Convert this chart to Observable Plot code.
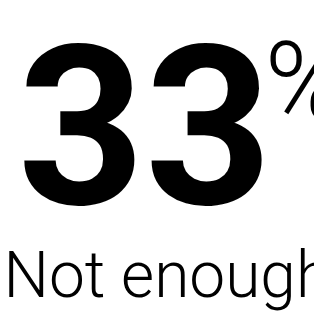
<!DOCTYPE html>
<html>
<head>
<meta charset="utf-8">
<script src="https://cdn.jsdelivr.net/npm/d3@7"></script>
<script src="https://cdn.jsdelivr.net/npm/@observablehq/plot@0.6"></script>
<style>
  html, body { margin: 0; padding: 0; background: #fff; overflow: hidden; }
</style>
</head>
<body>
<div id="chart"></div>
<script>
const value = ["33"];
const unit = ["%"];
const label = ["Not enough"];

const chart = Plot.plot({
  width: 314,
  height: 331,
  margin: 0,
  x: {axis: null},
  y: {axis: null},
  style: {background: "#fff", color: "#000"},
  marks: [
    Plot.text(value, {
      text: d => d, frameAnchor: "top-left", textAnchor: "start", lineAnchor: "bottom",
      dx: 17, dy: 203, fontSize: 222, fontWeight: 700, fontFamily: "Roboto", fill: "#000"
    }),
    Plot.text(unit, {
      text: d => d, frameAnchor: "top-left", textAnchor: "start", lineAnchor: "bottom",
      dx: 264, dy: 120, fontSize: 112, fontWeight: 300, fontFamily: "Roboto", fill: "#000"
    }),
    Plot.text(label, {
      text: d => d, frameAnchor: "top-left", textAnchor: "start", lineAnchor: "bottom",
      dx: 3, dy: 296, fontSize: 64, fontWeight: 300, fontFamily: "Roboto", fill: "#000"
    })
  ]
});
document.getElementById("chart").appendChild(chart);
</script>
</body>
</html>
